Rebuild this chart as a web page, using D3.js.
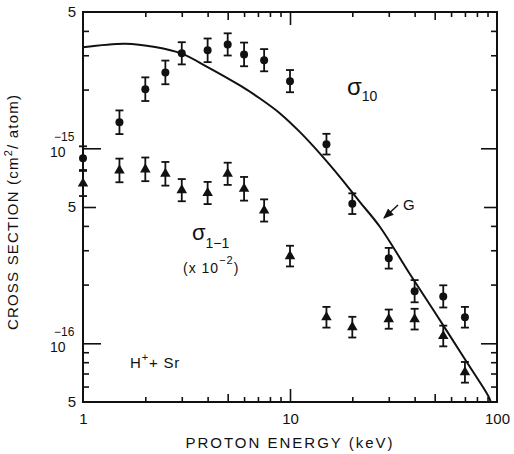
<!DOCTYPE html>
<html>
<head>
<meta charset="utf-8">
<script src="https://cdn.jsdelivr.net/npm/d3@7"></script>
<style>
  body { margin: 0; background: #fff; }
  svg { display: block; font-family: "Liberation Sans", Arial, Helvetica, sans-serif; }
</style>
</head>
<body>
<div id="chart"></div>
<script>
// data (H+ + Sr)
const energy = [1, 1.5, 2, 2.5, 3, 4, 5, 6, 7.5, 10, 15, 20, 30, 40, 55, 70];
const sigma10 = [8.9e-16, 1.36e-15, 2.01e-15, 2.45e-15, 3.07e-15, 3.18e-15, 3.41e-15, 3.03e-15,
                 2.83e-15, 2.21e-15, 1.05e-15, 5.2e-16, 2.73e-16, 1.85e-16, 1.74e-16, 1.36e-16];
const err10 = [0.15, 0.15, 0.15, 0.15, 0.14, 0.15, 0.14, 0.15, 0.14, 0.14, 0.13, 0.13, 0.13, 0.14, 0.14, 0.13];
const sigma11 = [6.6e-16, 7.7e-16, 7.8e-16, 7.4e-16, 6.1e-16, 5.9e-16, 7.4e-16, 6.2e-16,
                 4.8e-16, 2.8e-16, 1.36e-16, 1.21e-16, 1.33e-16, 1.33e-16, 1.09e-16, 7.1e-17];
const err11 = [0.16, 0.15, 0.15, 0.15, 0.14, 0.14, 0.14, 0.15, 0.14, 0.13, 0.13, 0.13, 0.12, 0.13, 0.13, 0.13];

// theory curve G
const curveE = [1, 1.6, 2.23, 3, 4, 5.73, 7.16, 8.95, 11.18, 13.96, 17.44, 21.78, 27.22,
                38, 51.9, 70, 90.5, 93.4];
const curveG = [3.3e-15, 3.44e-15, 3.31e-15, 3.06e-15, 2.61e-15, 2.1e-15, 1.8e-15, 1.51e-15,
                1.21e-15, 9.39e-16, 7.12e-16, 5.3e-16, 3.95e-16,
                2.26e-16, 1.36e-16, 8.28e-17, 5.4e-17, 5.0e-17];

// ticks
const xMinor = [2, 3, 4, 6, 7, 8, 9, 20, 30, 40, 60, 70, 80, 90];
const xMid = [5, 50];
const xMajor = [10];
const xLabels = [1, 10, 100];
const yMinor = [2e-15, 3e-15, 4e-15, 4e-16, 3e-16, 2e-16, 9e-17, 8e-17, 7e-17, 6e-17];
const yMid = [5e-16];
const yMajor = [1e-15, 1e-16];
const yFives = [5e-15, 5e-16, 5e-17];
const yPowers = [[1e-15, "\u221215"], [1e-16, "\u221216"]];

const W = 514, H = 454;
const svg = d3.select("#chart").append("svg")
    .attr("width", W)
    .attr("height", H);

const x = d3.scaleLog().domain([1, 100]).range([83, 497]);
const y = d3.scaleLog().domain([5e-17, 5e-15]).range([402, 12]);

const x0 = x.range()[0], x1 = x.range()[1];
const yb = y.range()[0], yt = y.range()[1];

// inward ticks
function ticks(axisFn, vals, len, tx, ty) {
    svg.append("g")
        .attr("transform", `translate(${tx},${ty})`)
        .call(axisFn.tickValues(vals).tickSize(-len).tickFormat(""))
        .call(g => g.select(".domain").remove())
        .selectAll("line").attr("stroke", "#111").attr("stroke-width", 1.6);
}
ticks(d3.axisBottom(x), xMinor, 5, 0, yb);
ticks(d3.axisBottom(x), xMid, 8, 0, yb);
ticks(d3.axisBottom(x), xMajor, 13, 0, yb);
ticks(d3.axisTop(x), xMinor, 5, 0, yt);
ticks(d3.axisTop(x), xMid, 8, 0, yt);
ticks(d3.axisTop(x), xMajor, 13, 0, yt);
ticks(d3.axisLeft(y), yMinor, 6, x0, 0);
ticks(d3.axisLeft(y), yMid, 13, x0, 0);
ticks(d3.axisLeft(y), yMajor, 18, x0, 0);
ticks(d3.axisRight(y), yMinor, 6, x1, 0);
ticks(d3.axisRight(y), yMid, 13, x1, 0);
ticks(d3.axisRight(y), yMajor, 16, x1, 0);

// frame
svg.append("rect")
    .attr("x", x0).attr("y", yt)
    .attr("width", x1 - x0).attr("height", yb - yt)
    .attr("fill", "none").attr("stroke", "#111").attr("stroke-width", 2);

// x labels
svg.append("g")
    .attr("transform", `translate(0,${yb})`)
    .call(d3.axisBottom(x).tickValues(xLabels).tickSize(0).tickPadding(11).tickFormat(d3.format("d")))
    .call(g => g.select(".domain").remove())
    .selectAll("text")
    .attr("font-size", 15).attr("fill", "#111")
    .attr("font-family", "Liberation Sans, Arial, sans-serif");

// y labels
svg.selectAll(".yfive").data(yFives).join("text")
    .attr("x", 76).attr("y", d => y(d) + 5)
    .attr("text-anchor", "end").attr("font-size", 15).attr("fill", "#111")
    .text("5");
yPowers.forEach(([v, e]) => {
    svg.append("text").attr("x", 50).attr("y", y(v) + 9)
        .attr("font-size", 14).attr("fill", "#111").text("10");
    svg.append("text").attr("x", 54).attr("y", y(v) - 7)
        .attr("font-size", 12).attr("fill", "#111").text(e);
});

// axis titles
svg.append("text")
    .attr("x", 290).attr("y", 448)
    .attr("text-anchor", "middle").attr("font-size", 15)
    .attr("letter-spacing", 2).attr("fill", "#111")
    .text("PROTON ENERGY (keV)");

const yt_ = svg.append("text")
    .attr("transform", "translate(18,212) rotate(-90)")
    .attr("text-anchor", "middle").attr("font-size", 15)
    .attr("letter-spacing", 1.2).attr("fill", "#111");
yt_.append("tspan").text("CROSS SECTION (cm");
yt_.append("tspan").attr("font-size", 11).attr("dy", -6).text("2");
yt_.append("tspan").attr("dy", 6).text("/ atom)");

// curve G
svg.append("path")
    .datum(curveE.map((e, i) => [e, curveG[i]]))
    .attr("fill", "none").attr("stroke", "#111").attr("stroke-width", 2)
    .attr("d", d3.line().x(d => x(d[0])).y(d => y(d[1])).curve(d3.curveCatmullRom.alpha(0.5)));

// error bars
function errBars(vals, errs) {
    const g = svg.append("g").attr("stroke", "#111").attr("stroke-width", 1.8);
    energy.forEach((e, i) => {
        const cx = x(e);
        const hi = y(vals[i] * (1 + errs[i])), lo = y(vals[i] / (1 + errs[i]));
        g.append("line").attr("x1", cx).attr("x2", cx).attr("y1", hi).attr("y2", lo);
        g.append("line").attr("x1", cx - 4).attr("x2", cx + 4).attr("y1", hi).attr("y2", hi);
        g.append("line").attr("x1", cx - 4).attr("x2", cx + 4).attr("y1", lo).attr("y2", lo);
    });
}
errBars(sigma10, err10);
errBars(sigma11, err11);

svg.append("g").selectAll("circle").data(energy).join("circle")
    .attr("cx", d => x(d)).attr("cy", (d, i) => y(sigma10[i]))
    .attr("r", 4).attr("fill", "#111");

svg.append("g").selectAll("path").data(energy).join("path")
    .attr("transform", (d, i) => `translate(${x(d)},${y(sigma11[i])})`)
    .attr("d", d3.symbol().type(d3.symbolTriangle).size(48))
    .attr("fill", "#111");

// annotations
const s10 = svg.append("text").attr("x", 347).attr("y", 95).attr("fill", "#111");
s10.append("tspan").attr("font-size", 24).text("\u03c3");
s10.append("tspan").attr("font-size", 14).attr("dy", 6).text("10");

const s11 = svg.append("text").attr("x", 192).attr("y", 240).attr("fill", "#111");
s11.append("tspan").attr("font-size", 22).text("\u03c3");
s11.append("tspan").attr("font-size", 14).attr("dy", 8).text("1\u22121");

const sc = svg.append("text").attr("x", 183).attr("y", 273).attr("fill", "#111")
    .attr("font-size", 14).attr("letter-spacing", 1);
sc.append("tspan").text("(x  10");
sc.append("tspan").attr("font-size", 11).attr("dy", -9).text("\u22122");
sc.append("tspan").attr("dy", 9).text(")");

const hs = svg.append("text").attr("x", 130).attr("y", 368).attr("fill", "#111")
    .attr("font-size", 15).attr("letter-spacing", 0.8);
hs.append("tspan").text("H");
hs.append("tspan").attr("font-size", 11).attr("dy", -7).text("+");
hs.append("tspan").attr("dy", 7).text("+  Sr");

svg.append("text").attr("x", 403).attr("y", 210)
    .attr("font-size", 15).attr("fill", "#111").text("G");

svg.append("defs").append("marker")
    .attr("id", "ah").attr("viewBox", "0 0 10 10")
    .attr("refX", 9).attr("refY", 5)
    .attr("markerWidth", 7).attr("markerHeight", 7)
    .attr("orient", "auto")
    .append("path").attr("d", "M0,1 L10,5 L0,9 Z").attr("fill", "#111");
svg.append("line")
    .attr("x1", 398).attr("y1", 205).attr("x2", 384).attr("y2", 218)
    .attr("stroke", "#111").attr("stroke-width", 1.5)
    .attr("marker-end", "url(#ah)");
</script>
</body>
</html>
